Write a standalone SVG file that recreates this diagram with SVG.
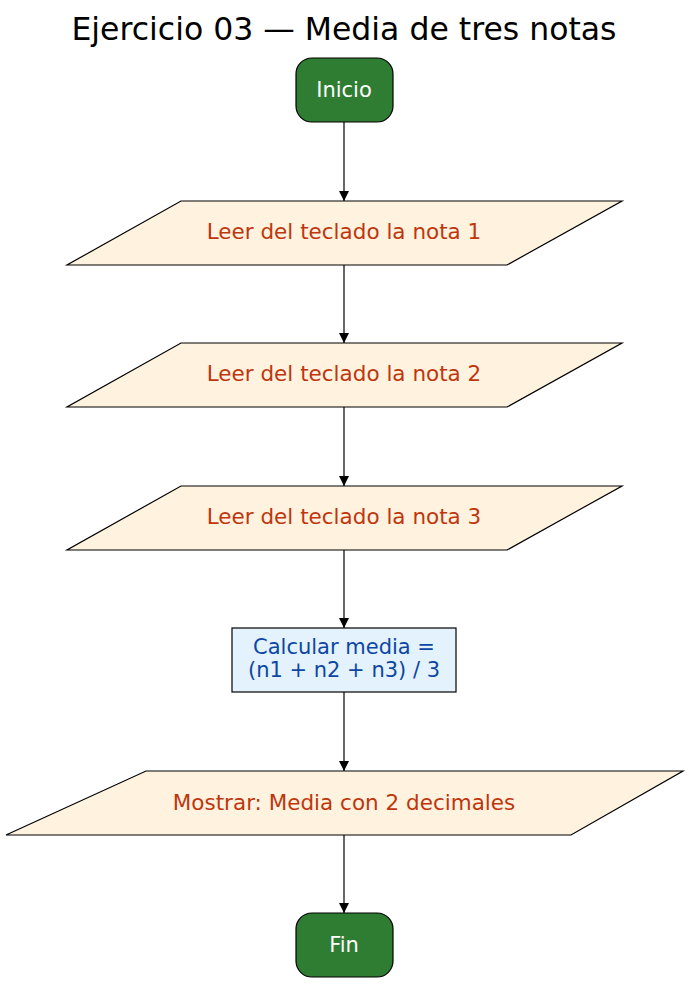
<svg xmlns="http://www.w3.org/2000/svg" width="689" height="986" viewBox="0 0 689 986">
<style>
text{font-family:"DejaVu Sans",sans-serif;text-anchor:middle}
.term{fill:#2e7d32;stroke:#000;stroke-width:1.2}
.term+text{fill:#fff;font-size:21px}
.io{fill:#fff3e0;stroke:#000;stroke-width:1.2}
.io+text{fill:#bf360c;font-size:21.5px}
.proc{fill:#e3f2fd;stroke:#000;stroke-width:1.2}
.proc~text{fill:#0d47a1;font-size:21px}
.c{stroke:#000;stroke-width:1.2;fill:none;marker-end:url(#a)}
</style>
<defs><marker id="a" markerWidth="10" markerHeight="14" refX="10" refY="7" orient="auto" markerUnits="userSpaceOnUse"><path d="M0,2L10,7L0,12z" fill="#000"/></marker></defs>
<rect width="689" height="986" fill="#fff"/>
<text x="344" y="40" style="font-size:31.5px;fill:#000">Ejercicio 03 — Media de tres notas</text>
<g id="connectors">
<path class="c" d="M344,122V201"/>
<path class="c" d="M344,265V343"/>
<path class="c" d="M344,407V486"/>
<path class="c" d="M344,550V628"/>
<path class="c" d="M344,692V771"/>
<path class="c" d="M344,835V913"/>
</g>
<g id="inicio"><rect class="term" x="296" y="58" width="97" height="64" rx="16"/><text x="344" y="97">Inicio</text></g>
<g id="nota1"><polygon class="io" points="181,201 622,201 507,265 67,265"/><text x="344" y="239">Leer del teclado la nota 1</text></g>
<g id="nota2"><polygon class="io" points="181,343 622,343 507,407 67,407"/><text x="344" y="381">Leer del teclado la nota 2</text></g>
<g id="nota3"><polygon class="io" points="181,486 622,486 507,550 67,550"/><text x="344" y="524">Leer del teclado la nota 3</text></g>
<g id="calc"><rect class="proc" x="232" y="628" width="224" height="64"/><text x="344" y="654">Calcular media =</text><text x="344" y="677">(n1 + n2 + n3) / 3</text></g>
<g id="mostrar"><polygon class="io" points="146,771 683,771 571,835 6,835"/><text x="344" y="810">Mostrar: Media con 2 decimales</text></g>
<g id="fin"><rect class="term" x="296" y="913" width="97" height="64" rx="16"/><text x="344" y="952">Fin</text></g>
</svg>
